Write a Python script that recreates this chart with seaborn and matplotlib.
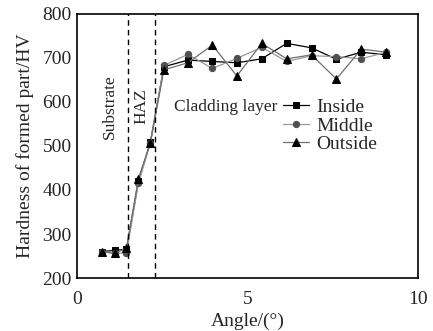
import numpy as np
import pandas as pd
import seaborn as sns
from matplotlib import pyplot as plt

angle = [0.73, 1.1, 1.45, 1.8, 2.15, 2.55, 3.25, 3.97, 4.69, 5.42, 6.15, 6.88, 7.61, 8.34, 9.07]
inside = [260, 263, 265, 420, 508, 680, 695, 692, 689, 698, 733, 723, 697, 713, 707]
middle = [260, 256, 257, 415, 507, 683, 708, 676, 699, 724, 692, 705, 703, 698, 713]
outside = [260, 256, 268, 426, 507, 673, 689, 729, 659, 733, 698, 707, 652, 720, 713]
series = ["Inside", "Middle", "Outside"]
boundaries = [1.5, 2.3]

df = pd.DataFrame({"Angle": angle * 3,
                   "Hardness": inside + middle + outside,
                   "Position": np.repeat(series, len(angle))})

sns.set_style("white")
plt.rcParams['font.family'] = ['Liberation Serif', 'DejaVu Serif']

fig = plt.figure(figsize=(4.33, 3.31), dpi=100)
ax = fig.add_axes([0.178, 0.16, 0.787, 0.798])

styles = {
    "Inside": dict(color="black", marker="s", mfc="black", mec="black", ms=4.5),
    "Middle": dict(color="#9a9a9a", marker="o", mfc="#505050", mec="#505050", ms=4.5),
    "Outside": dict(color="#707070", marker="^", mfc="black", mec="black", ms=5.5),
}
for name in series:
    st = styles[name]
    sns.lineplot(data=df[df["Position"] == name], x="Angle", y="Hardness", ax=ax,
                 color=st["color"], marker=st["marker"], markersize=st["ms"],
                 markerfacecolor=st["mfc"], markeredgecolor=st["mec"],
                 linewidth=0.9, label=name)

for b in boundaries:
    ax.axvline(b, color="black", ls="--", lw=1.0, dashes=(4, 3))

ax.text(0.95, 590, "Substrate", rotation=90, fontsize=12.5, ha="center", va="center")
ax.text(1.9, 590, "HAZ", rotation=90, fontsize=12.5, ha="center", va="center")
ax.text(2.85, 588, "Cladding layer", fontsize=12.5, ha="left", va="center")

ax.set_xlim(0, 10)
ax.set_ylim(200, 800)
ax.set_xticks([0, 5, 10])
ax.set_yticks(range(200, 801, 100))
ax.set_xlabel("Angle/(°)", fontsize=14, labelpad=4)
ax.set_ylabel("Hardness of formed part/HV", fontsize=14, labelpad=6)
ax.tick_params(axis='x', direction='in', length=3, labelsize=14, pad=9)
ax.tick_params(axis='y', direction='out', length=3, labelsize=14, pad=1)
for sp in ax.spines.values():
    sp.set_visible(True)
    sp.set_color("black")
    sp.set_linewidth(1.2)

ax.legend(loc="upper left", bbox_to_anchor=(0.605, 0.68), frameon=False, fontsize=14,
          handlelength=1.3, handletextpad=0.4, labelspacing=0.05, borderaxespad=0, borderpad=0)

fig.savefig("out.png", dpi=100)
